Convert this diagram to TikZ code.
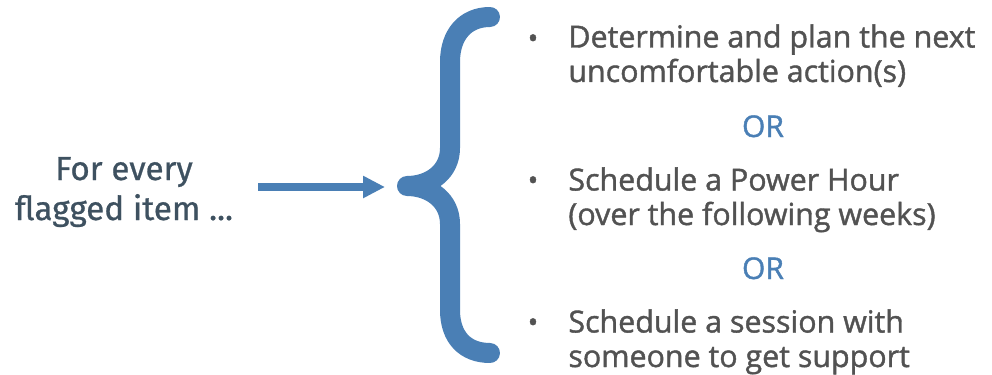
\documentclass[tikz,border=0pt]{standalone}
\usepackage{fontspec}
\setmainfont{Open Sans}[FakeBold=1.3]
\newfontfamily\leftfont{Fira Sans}[FakeBold=0.8]
\usetikzlibrary{positioning,arrows.meta}
\definecolor{braceblue}{RGB}{74,127,181}
\definecolor{itemgray}{RGB}{82,82,82}
\definecolor{slate}{RGB}{62,81,96}
\tikzset{
  item/.style={anchor=base west, align=left, text=itemgray, inner sep=0pt,
    font=\fontsize{15.2}{17.25}\selectfont},
  bullet/.style={anchor=base, text=itemgray, inner sep=0pt, font=\fontsize{14}{17}\selectfont},
  ortext/.style={anchor=base, text=braceblue, inner sep=0pt, font=\fontsize{15}{17}\selectfont},
  bigarrow/.style={draw=braceblue, line width=4pt, -{Triangle[length=11pt,width=10.5pt]}},
  brace/.style={draw=braceblue, line width=10pt, line cap=round, line join=round},
}

\begin{document}
\begin{tikzpicture}[x=0.5pt,y=-0.5pt]
    \useasboundingbox (0,0) rectangle (992,375);

    %nodes
    \node[anchor=base, align=center, text=slate, inner sep=0pt,
      font=\leftfont\fontsize{16.6}{20}\selectfont] (flag) at (124,220) {For every\\flagged item ...};
    \coordinate (start) at (258,187);
    \coordinate (tip) at (385,187);

    \node[item] (act) at (568,82) {Determine and plan the next\\uncomfortable action(s)};
    \node[ortext] (or1) at (763,137) {OR};
    \node[item] (hour) at (568,225) {Schedule a Power Hour\\(over the following weeks)};
    \node[ortext] (or2) at (763,279) {OR};
    \node[item] (help) at (568,367) {Schedule a session with\\someone to get support};

    \foreach \y/\n in {48/b1,190/b2,332/b3}
      \node[bullet] (\n) at (533,\y) {•};

    % edges
    \draw[bigarrow] (start) -- (tip);

    % brace
    \draw[brace] (490,17) .. controls (465,17) and (450,35) .. (450,62)
      -- (450,148) .. controls (450,172) and (430,186) .. (407,186)
      .. controls (430,186) and (450,200) .. (450,224)
      -- (450,310) .. controls (450,337) and (465,353) .. (490,353);

\end{tikzpicture}
\end{document}
